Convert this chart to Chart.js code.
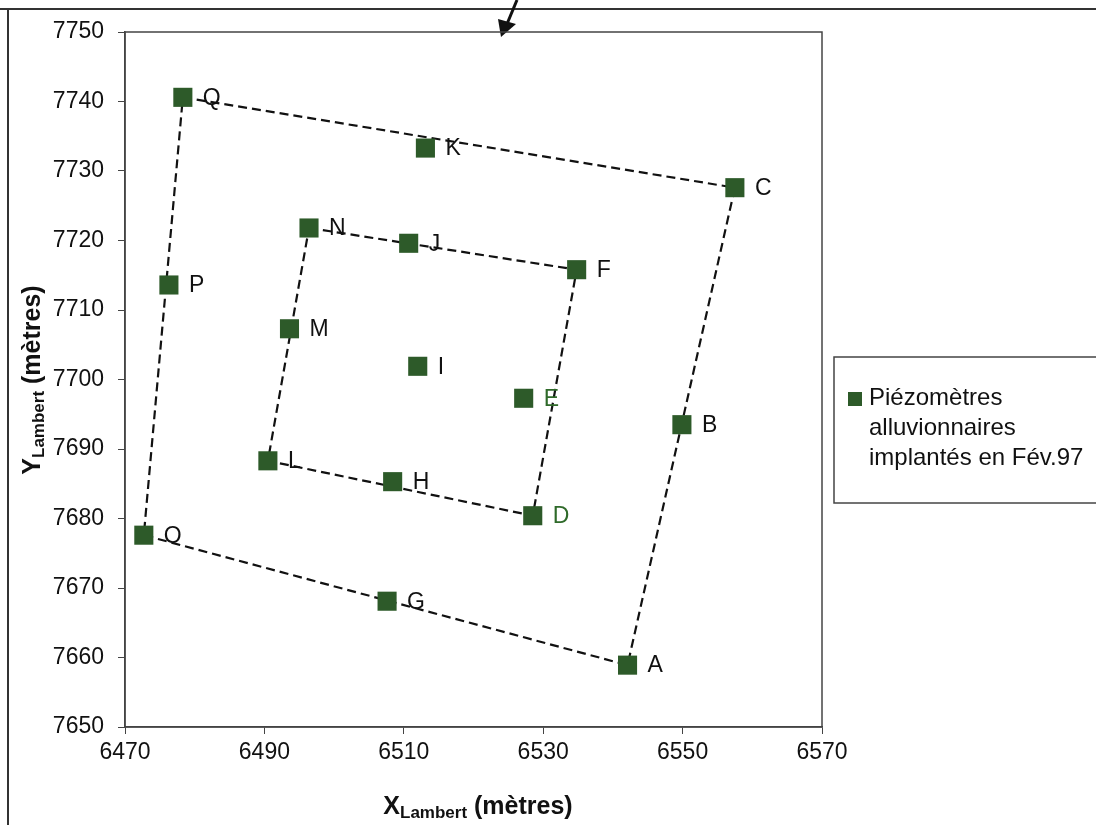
<!DOCTYPE html>
<html>
<head>
<meta charset="utf-8">
<script src="https://cdn.jsdelivr.net/npm/chart.js@4/dist/chart.umd.min.js"></script>
<style>
  html, body { margin: 0; padding: 0; background: #ffffff; }
  #wrap { width: 1096px; height: 825px; position: relative; }
</style>
</head>
<body>
<div id="wrap"><canvas id="c" width="1096" height="825"></canvas></div>
<script>
// ---------- DATA ----------
const pointLabels = ['Q','K','C','N','J','F','P','M','I','E','B','L','H','D','O','G','A'];
const xValues = [6478.3, 6513.1, 6557.5, 6496.4, 6510.7, 6534.8, 6476.3, 6493.6, 6512.0, 6527.2, 6549.9, 6490.5, 6508.4, 6528.5, 6472.7, 6507.6, 6542.1];
const yValues = [7740.6, 7733.3, 7727.6, 7721.8, 7719.6, 7715.8, 7713.6, 7707.3, 7701.9, 7697.3, 7693.5, 7688.3, 7685.3, 7680.4, 7677.6, 7668.1, 7658.9];
const outerPath = ['Q','C','A','O','Q'];
const innerPath = ['N','F','D','L','N'];
const xTicks = [6470, 6490, 6510, 6530, 6550, 6570];
const yTicks = [7650, 7660, 7670, 7680, 7690, 7700, 7710, 7720, 7730, 7740, 7750];
const seriesName = ['Piézomètres', 'alluvionnaires', 'implantés en Fév.97'];
const xTitle = ['X', 'Lambert', ' (mètres)'];
const yTitle = ['Y', 'Lambert', ' (mètres)'];

// ---------- STYLE ----------
const GREEN = '#2d5a29';
const greenLabels = ['E','D'];
const FONT = '"Liberation Sans", Arial, sans-serif';

const points = pointLabels.map((l, i) => ({ x: xValues[i], y: yValues[i] }));
function pathData(path) {
  return path.map(l => { const i = pointLabels.indexOf(l); return { x: xValues[i], y: yValues[i] }; });
}

const lineStyle = {
  type: 'scatter', showLine: true, borderColor: '#111', borderWidth: 2.2,
  borderDash: [9, 5], pointRadius: 0, fill: false, order: 2
};

const decor = {
  id: 'decor',
  beforeDraw(chart) {
    const ctx = chart.ctx;
    ctx.save();
    ctx.strokeStyle = '#333'; ctx.lineWidth = 2;
    ctx.beginPath(); ctx.moveTo(0, 9); ctx.lineTo(1096, 9); ctx.stroke();
    ctx.beginPath(); ctx.moveTo(8, 9); ctx.lineTo(8, 825); ctx.stroke();
    ctx.strokeStyle = '#111'; ctx.lineWidth = 3;
    ctx.beginPath(); ctx.moveTo(517, 0); ctx.lineTo(507, 24); ctx.stroke();
    ctx.fillStyle = '#111';
    ctx.beginPath(); ctx.moveTo(501, 37); ctx.lineTo(498, 19); ctx.lineTo(516, 24); ctx.closePath(); ctx.fill();
    ctx.restore();
  },
  afterDraw(chart) {
    const ctx = chart.ctx;
    const a = chart.chartArea;
    ctx.save();
    ctx.strokeStyle = '#444'; ctx.lineWidth = 1.5;
    ctx.strokeRect(a.left, a.top, a.right - a.left, a.bottom - a.top);

    function drawTitle(parts, cx, baseY) {
      const big = 'bold 25px ' + FONT, small = 'bold 17px ' + FONT;
      ctx.font = big; const w0 = ctx.measureText(parts[0]).width;
      ctx.font = small; const w1 = ctx.measureText(parts[1]).width;
      ctx.font = big; const w2 = ctx.measureText(parts[2]).width;
      let x = cx - (w0 + w1 + w2) / 2;
      ctx.fillStyle = '#111'; ctx.textBaseline = 'alphabetic'; ctx.textAlign = 'left';
      ctx.font = big; ctx.fillText(parts[0], x, baseY); x += w0;
      ctx.font = small; ctx.fillText(parts[1], x, baseY + 4); x += w1;
      ctx.font = big; ctx.fillText(parts[2], x, baseY);
    }
    drawTitle(xTitle, 478, 814);
    ctx.save();
    ctx.translate(40, 380);
    ctx.rotate(-Math.PI / 2);
    drawTitle(yTitle, 0, 0);
    ctx.restore();

    ctx.strokeStyle = '#444'; ctx.lineWidth = 1.5;
    ctx.strokeRect(834, 357, 300, 146);
    ctx.fillStyle = GREEN;
    ctx.fillRect(848, 392, 14, 14);
    ctx.fillStyle = '#111';
    ctx.font = '24px ' + FONT; ctx.textAlign = 'left'; ctx.textBaseline = 'alphabetic';
    seriesName.forEach((t, i) => ctx.fillText(t, 869, 405 + i * 30));
    ctx.restore();
  },
  afterDatasetsDraw(chart) {
    const ctx = chart.ctx;
    const meta = chart.getDatasetMeta(0);
    ctx.save();
    ctx.font = '23px ' + FONT;
    ctx.textAlign = 'left'; ctx.textBaseline = 'middle';
    meta.data.forEach((el, i) => {
      const l = pointLabels[i];
      ctx.fillStyle = greenLabels.includes(l) ? '#2f6a2a' : '#111';
      ctx.fillText(l, el.x + 20, el.y + 1);
    });
    ctx.restore();
  }
};

new Chart(document.getElementById('c'), {
  type: 'scatter',
  data: {
    datasets: [
      {
        label: seriesName.join(' '), data: points, order: 0,
        pointStyle: 'rect', pointRadius: 13.5, pointHoverRadius: 13.5,
        backgroundColor: GREEN, borderColor: GREEN, borderWidth: 0
      },
      Object.assign({ label: 'outer', data: pathData(outerPath) }, lineStyle),
      Object.assign({ label: 'inner', data: pathData(innerPath) }, lineStyle)
    ]
  },
  plugins: [decor],
  options: {
    responsive: false,
    devicePixelRatio: 1,
    animation: false,
    layout: { padding: { left: 0, right: 274, top: 32, bottom: 0 } },
    plugins: { legend: { display: false }, tooltip: { enabled: false } },
    scales: {
      x: {
        type: 'linear', min: 6470, max: 6570,
        afterBuildTicks: s => { s.ticks = xTicks.map(v => ({ value: v })); },
        afterFit: s => { s.height = 98; },
        grid: { drawOnChartArea: false, drawTicks: true, tickLength: 7, color: '#444' },
        border: { display: true, color: '#444', width: 1.5 },
        ticks: { color: '#111', font: { family: FONT, size: 23 }, padding: 5, maxRotation: 0,
                 callback: v => String(v) }
      },
      y: {
        type: 'linear', min: 7650, max: 7750,
        afterBuildTicks: s => { s.ticks = yTicks.map(v => ({ value: v })); },
        afterFit: s => { s.width = 125; },
        grid: { drawOnChartArea: false, drawTicks: true, tickLength: 7, color: '#444' },
        border: { display: true, color: '#444', width: 1.5 },
        ticks: { color: '#111', font: { family: FONT, size: 23 }, padding: 14,
                 callback: v => String(v) }
      }
    }
  }
});
</script>
</body>
</html>
